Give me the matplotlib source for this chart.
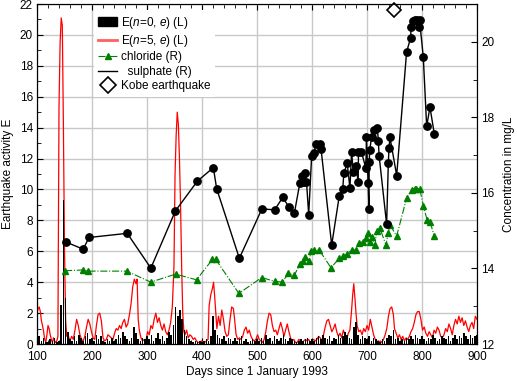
import numpy as np
import matplotlib
matplotlib.use('Agg')
import matplotlib.pyplot as plt
from matplotlib.ticker import MultipleLocator
from matplotlib.lines import Line2D
from matplotlib.patches import Patch

plt.rcParams['font.family'] = ['Liberation Sans', 'DejaVu Sans']
plt.rcParams['mathtext.fontset'] = 'custom'
plt.rcParams['mathtext.rm'] = 'Liberation Sans'
plt.rcParams['mathtext.it'] = 'Liberation Sans:italic'
plt.rcParams['font.size'] = 8.5

# E(n=5, e) - red line, left axis
red_days = [100, 102, 104, 106, 108, 110, 112, 114, 116, 118, 120, 122, 124, 126, 128, 130, 132, 134, 136, 138,
            140, 142, 144, 146, 148, 150, 152, 154, 156, 158, 160, 163, 166, 169, 172, 175, 178, 181, 184, 187,
            190, 193, 196, 199, 202, 205, 208, 211, 214, 217, 220, 223, 226, 229, 232, 235, 238, 241, 244, 247,
            250, 253, 256, 259, 262, 265, 268, 271, 274, 277, 280, 282, 284, 286, 289, 292, 295, 298, 301, 304,
            307, 310, 313, 316, 319, 322, 325, 328, 331, 334, 337, 340, 343, 346, 349, 351, 353, 355, 357, 359,
            361, 363, 365, 367, 369, 372, 375, 378, 381, 384, 387, 390, 393, 396, 399, 402, 405, 408, 411, 413,
            416, 419, 421, 423, 425, 427, 430, 433, 436, 439, 442, 445, 448, 451, 454, 457, 459, 462, 465, 468,
            471, 474, 477, 480, 483, 486, 489, 492, 495, 498, 501, 504, 507, 510, 513, 516, 519, 522, 525, 528,
            531, 534, 537, 540, 543, 546, 549, 552, 555, 558, 561, 564, 567, 570, 573, 576, 579, 582, 585, 588,
            591, 594, 597, 600, 603, 606, 609, 612, 615, 618, 621, 624, 627, 630, 633, 636, 639, 642, 645, 648,
            651, 654, 657, 660, 663, 666, 669, 672, 674, 676, 678, 680, 682, 685, 688, 691, 694, 697, 700, 703,
            706, 709, 712, 715, 718, 721, 724, 727, 730, 733, 736, 739, 742, 745, 748, 750, 753, 756, 759, 762,
            765, 768, 771, 774, 777, 780, 783, 786, 789, 792, 795, 798, 801, 804, 807, 810, 813, 816, 819, 822,
            825, 828, 831, 834, 837, 840, 843, 846, 849, 852, 855, 858, 861, 864, 867, 870, 873, 876, 879, 882,
            885, 888, 891, 894, 897, 900]
red_vals = [2.0, 2.3, 2.4, 2.1, 1.5, 1.2, 0.8, 0.3, 0.1, 0.6, 1.2, 1.0, 0.6, 0.3, 0.1, 0.4, 0.2, 0.1, 0.2, 0.5,
            15.4, 19.5, 21.1, 20.6, 14.0, 6.0, 1.6, 0.5, 0.7, 0.4, 0.2, 0.5, 0.3, 0.9, 1.6, 1.2, 0.6, 0.3, 0.2, 0.5,
            1.1, 1.6, 1.3, 0.8, 0.4, 0.3, 1.2, 1.9, 2.0, 1.5, 0.4, 0.2, 0.3, 0.6, 0.5, 0.4, 0.3, 0.7, 1.0, 0.9,
            1.2, 1.0, 1.4, 1.6, 1.1, 1.3, 1.9, 2.6, 3.7, 4.2, 3.9, 4.2, 1.6, 0.9, 0.4, 0.2, 0.3, 0.2, 0.8, 0.6,
            1.2, 1.0, 1.6, 2.0, 1.4, 1.7, 1.2, 0.9, 1.3, 0.8, 0.6, 0.9, 1.4, 2.4, 5.0, 11.0, 13.5, 15.0, 14.2, 12.0,
            9.0, 5.0, 2.0, 0.8, 0.6, 0.9, 0.4, 0.6, 0.5, 0.3, 0.4, 0.2, 0.1, 0.1, 0.2, 0.1, 0.1, 0.2, 0.3, 2.5,
            3.2, 3.6, 4.0, 3.1, 2.0, 1.0, 1.8, 1.2, 2.2, 1.6, 0.8, 0.5, 0.6, 1.6, 2.4, 2.3, 1.7, 0.6, 0.3, 0.4,
            0.3, 0.5, 0.9, 1.1, 0.7, 0.9, 0.5, 0.3, 0.2, 0.3, 0.6, 0.3, 0.2, 0.1, 0.3, 0.8, 1.5, 2.0, 1.9, 1.2,
            0.8, 0.9, 0.6, 1.0, 1.4, 1.0, 0.5, 0.9, 1.3, 0.8, 0.4, 0.2, 0.3, 0.1, 0.1, 0.3, 0.2, 0.1, 0.2, 0.3,
            0.2, 0.3, 0.1, 0.2, 0.3, 0.2, 0.3, 0.5, 0.4, 0.2, 0.6, 1.1, 1.5, 1.6, 1.2, 0.8, 1.0, 1.3, 0.8, 0.5,
            0.7, 0.4, 0.9, 0.6, 0.3, 0.7, 0.9, 2.2, 3.2, 3.9, 3.0, 2.0, 1.2, 0.8, 0.9, 0.6, 1.0, 0.8, 1.2, 0.9,
            1.6, 1.1, 0.6, 0.3, 0.2, 0.1, 0.2, 0.1, 0.3, 0.6, 1.0, 1.8, 2.3, 2.4, 1.9, 1.0, 0.7, 0.4, 0.6, 0.3,
            0.5, 0.2, 0.4, 0.3, 0.5, 0.8, 1.0, 1.4, 1.9, 2.1, 2.1, 1.6, 0.9, 1.1, 0.7, 0.5, 0.8, 0.6, 0.4, 0.9,
            0.7, 1.1, 0.9, 0.5, 0.4, 0.6, 1.0, 0.8, 1.3, 1.0, 0.6, 1.2, 1.6, 1.3, 1.8, 1.4, 1.7, 1.2, 1.5, 1.1,
            0.8, 1.2, 1.4, 1.0, 1.8, 1.6]

# E(n=0, e) - black spikes, left axis, every 4 days from day 100
black_start = 100
black_step = 4
black_vals = [0.3, 0.5, 0.2, 0.4, 0.1, 0.1, 0.3, 0.2, 0.4, 0.1, 0.2, 2.5, 9.3, 3.0, 0.8, 0.3, 0.2, 0.5, 0.2, 0.6, 0.4, 0.2, 0.5, 0.7, 0.3,
              0.4, 0.2, 0.6, 0.3, 0.5, 0.2, 0.1, 0.3, 0.2, 0.4, 0.2, 0.3, 0.6, 0.4, 0.8, 0.5, 0.3, 0.2, 0.4, 1.1, 0.7, 0.3, 0.2, 0.4, 0.3,
              0.5, 0.3, 0.6, 0.2, 0.4, 0.7, 0.3, 0.5, 0.2, 0.4, 0.8, 0.6, 1.2, 2.4, 1.8, 2.2, 1.6, 0.9, 0.5, 0.3, 0.2, 0.1, 0.2, 0.1, 0.2,
              0.1, 0.2, 0.3, 0.2, 0.5, 1.8, 0.9, 0.6, 0.4, 0.3, 0.5, 0.2, 0.4, 0.3, 0.2, 0.4, 0.2, 0.3, 0.5, 0.2, 0.3, 0.1, 0.2, 0.3, 0.2,
              0.3, 0.2, 0.4, 0.2, 0.6, 0.3, 0.4, 0.2, 0.5, 0.3, 0.2, 0.4, 0.6, 0.3, 0.2, 0.4, 0.3, 0.2, 0.1, 0.2, 0.3, 0.2, 0.3, 0.4, 0.2,
              0.3, 0.2, 0.4, 0.5, 0.3, 0.6, 0.4, 0.3, 0.5, 0.2, 0.4, 0.3, 0.6, 0.4, 0.5, 0.8, 0.6, 0.4, 0.3, 1.1, 1.4, 0.6, 0.3, 0.5, 0.4,
              0.3, 0.5, 0.2, 0.4, 0.3, 0.2, 0.1, 0.3, 0.2, 0.4, 0.6, 0.5, 0.9, 0.3, 0.4, 0.2, 0.3, 0.2, 0.4, 0.3, 0.5, 0.3, 0.6, 0.4, 0.3,
              0.5, 0.3, 0.2, 0.4, 0.3, 0.6, 0.4, 0.2, 0.3, 0.5, 0.4, 0.3, 0.5, 0.2, 0.4, 0.6, 0.3, 0.5, 0.4, 0.7, 0.5, 0.3, 0.6, 0.4, 0.5, 0.6]
black_days = black_start + black_step * np.arange(len(black_vals))

# sulphate (right axis, mg/L)
sul_days = [152.7, 184, 194.5, 264, 307, 351.5, 391.5, 420.6, 426.7, 467.9, 509, 532, 546.7, 557.6, 567.9,
            578, 581.8, 585, 587, 590, 594, 599.4, 603.6, 607, 614.5, 616.4, 635.8, 649.7, 655.8, 658, 664,
            669, 672, 675, 680, 684, 684.5, 690, 698, 699, 702, 703.6, 704, 705, 708.5, 713.3, 719, 720.6, 722,
            735.7, 738.8, 740, 741.8, 754, 772, 779.5, 780, 783, 787, 791, 794.5, 795.5, 802.4, 808.5, 814.5, 822.4]
sul_vals = [14.70, 14.51, 14.82, 14.93, 14.01, 15.52, 16.31, 16.67, 16.11, 14.27, 15.58, 15.55, 15.88, 15.64, 15.46,
            16.27, 16.46, 16.30, 16.54, 16.30, 15.42, 16.99, 17.05, 17.30, 17.30, 17.17, 14.62, 15.93, 16.10, 16.52, 16.79,
            16.12, 17.09, 16.56, 16.70, 16.30, 17.08, 17.08, 16.65, 17.49, 16.26, 15.58, 16.81, 17.14, 17.49, 17.67, 17.71, 17.38, 16.99,
            15.17, 16.79, 17.18, 17.47, 16.46, 19.73, 20.11, 20.40, 20.56, 20.58, 20.58, 20.40, 20.58, 19.59, 17.76, 18.27, 17.56]

# chloride (right axis, mg/L)
chl_days = [151, 183, 193, 263, 306.7, 352, 390, 419, 425, 467, 508.5, 532, 546, 557, 568, 578, 583, 588, 594,
            599, 604, 613, 634.5, 649.7, 657, 663, 672, 680, 686, 692, 698, 702, 705, 708.5, 714.5, 717.6, 723.6,
            734.5, 738.8, 741.8, 754, 772, 781, 787, 790, 796, 802.4, 809.6, 814.5, 822.4]
chl_vals = [13.94, 13.96, 13.93, 13.93, 13.64, 13.85, 13.70, 14.24, 14.24, 13.34, 13.76, 13.66, 13.64, 13.87, 13.82,
            14.12, 14.20, 14.30, 14.20, 14.46, 14.49, 14.49, 14.02, 14.27, 14.33, 14.38, 14.49, 14.49, 14.68, 14.70,
            14.80, 14.93, 14.71, 14.84, 14.62, 14.99, 15.06, 14.62, 14.95, 15.15, 14.86, 15.86, 16.08, 16.11, 16.11,
            16.11, 15.66, 15.27, 15.24, 14.86]

kobe_day = [749]
kobe_val = [20.85]

fig = plt.figure(figsize=(5.17, 3.81), dpi=100)
ax1 = fig.add_axes([0.0716, 0.097, 0.851, 0.8925])
ax2 = ax1.twinx()

ax1.grid(True, which='major', color='#c8c8c8', lw=1)
ax1.set_axisbelow(True)
ax1.plot(red_days, red_vals, color='red', lw=0.9, zorder=2)
ax1.bar(black_days, black_vals, width=3.0, color='black', lw=0, zorder=3)

ax2.plot(chl_days, chl_vals, color='#008000', ls='-.', lw=0.8, marker='^', ms=5, mec='#008000', mfc='#008000')
ax2.plot(sul_days, sul_vals, color='black', lw=1, marker='o', ms=5.3)
ax2.plot(kobe_day, kobe_val, ls='none', marker='D', ms=7, mfc='white', mec='black', mew=1.2, clip_on=False)

ax1.set_xlim(100, 900)
ax1.set_ylim(0, 22)
ax2.set_ylim(12, 21)

ax1.xaxis.set_major_locator(MultipleLocator(100))
ax1.xaxis.set_minor_locator(MultipleLocator(20))
ax1.yaxis.set_major_locator(MultipleLocator(2))
ax1.yaxis.set_minor_locator(MultipleLocator(1))
ax2.yaxis.set_major_locator(MultipleLocator(2))
ax2.yaxis.set_minor_locator(MultipleLocator(1))

ax1.tick_params(which='both', direction='in', top=True, pad=3)
ax1.tick_params(axis='x', which='major', pad=5)
ax1.tick_params(which='major', length=4)
ax1.tick_params(which='minor', length=3)
ax2.tick_params(which='both', direction='in', pad=3)
ax2.tick_params(which='major', length=4)
ax2.tick_params(which='minor', length=3)

ax1.set_xlabel('Days since 1 January 1993', labelpad=2)
ax1.set_ylabel('Earthquake activity E', labelpad=4)
ax2.set_ylabel('Concentration in mg/L', labelpad=6)

handles = [Patch(facecolor='black', edgecolor='black'),
           Line2D([], [], color='#ff6060', lw=2),
           Line2D([], [], color='#008000', ls='-.', lw=0.8, marker='^', ms=5),
           Line2D([], [], color='black', lw=1),
           Line2D([], [], ls='none', marker='D', ms=8, mfc='white', mec='black', mew=1.2)]
labels = ['E($n$=0, $e$) (L)', 'E($n$=5, $e$) (L)', 'chloride (R)', '  sulphate (R)', 'Kobe earthquake']
leg = ax2.legend(handles, labels, loc='upper left', bbox_to_anchor=(0.115, 1.0), frameon=True,
                 fancybox=False, edgecolor='none', facecolor='white', framealpha=1,
                 handlelength=1.6, handletextpad=0.35, labelspacing=0.2, borderpad=0.4)
leg.set_zorder(10)

fig.savefig('out.png', dpi=100)
